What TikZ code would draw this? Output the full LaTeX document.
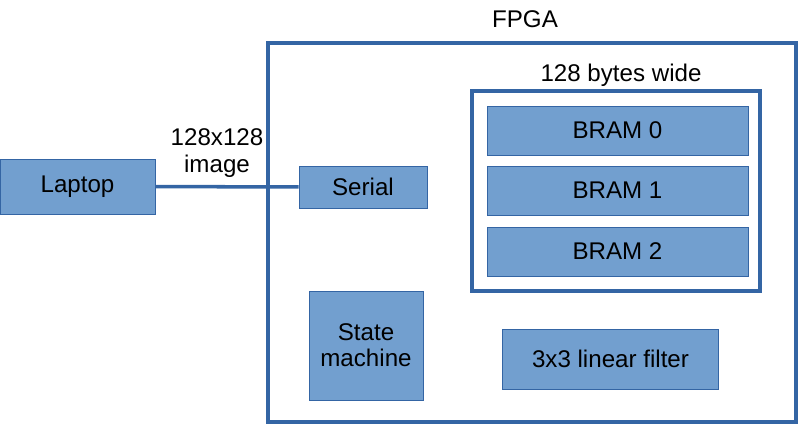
\documentclass[tikz,border=0pt]{standalone}
\usepackage{fontspec}
\setmainfont{Liberation Sans}
\definecolor{blockfill}{HTML}{729FCF}
\definecolor{blockline}{HTML}{3465A4}

\begin{document}
\begin{tikzpicture}
[x=0.03cm, y=-0.03cm,
block/.style={rectangle, draw=blockline, fill=blockfill, line width=0.8pt, inner sep=0pt, align=center, font=\fontsize{20.6}{22.5}\selectfont},
frame/.style={rectangle, draw=blockline, line width=3pt, inner sep=0pt},
label/.style={align=center, inner sep=0pt, font=\fontsize{20.6}{22.5}\selectfont}]

\useasboundingbox (0,0) rectangle (799,425);

\node[frame] (fpga) at (532,232.5) [minimum width=528*0.03cm, minimum height=379*0.03cm] {};
\node[frame] (mem) at (616,191) [minimum width=288*0.03cm, minimum height=200*0.03cm] {};

\node[block] (laptop) at (77.5,186.5) [minimum width=155*0.03cm, minimum height=55*0.03cm] {Laptop};
\node[block] (serial) at (363,187) [minimum width=128*0.03cm, minimum height=42*0.03cm] {Serial};
\node[block] (bram0) at (617.5,130.5) [minimum width=261*0.03cm, minimum height=49*0.03cm] {BRAM 0};
\node[block] (bram1) at (617.5,190.5) [minimum width=261*0.03cm, minimum height=49*0.03cm] {BRAM 1};
\node[block] (bram2) at (617.5,251.5) [minimum width=261*0.03cm, minimum height=49*0.03cm] {BRAM 2};
\node[block] (fsm) at (366,345.5) [minimum width=114*0.03cm, minimum height=109*0.03cm] {State\\machine};
\node[block] (filter) at (610.5,359) [minimum width=216*0.03cm, minimum height=60*0.03cm] {3x3 linear filter};

\node[label] (fpgatext) at (525,19) {FPGA};
\node[label] (widthtext) at (621,75) {128 bytes wide};
\node[label] (imgtext) at (217,153) {128x128\\image};

\draw[draw=blockline, line width=3pt] (laptop) -- (serial);
\end{tikzpicture}
\end{document}
